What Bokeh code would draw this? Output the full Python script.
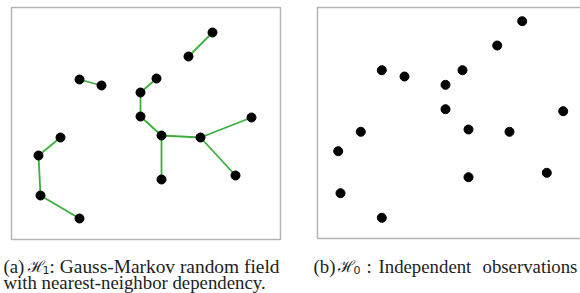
from bokeh.plotting import figure
from bokeh.models import Range1d
from bokeh.core.properties import value
from bokeh.embed import file_html
from bokeh.resources import INLINE

# Panel (a): points of the Gauss-Markov random field (pixel-like coordinates)
a_x = [212, 188, 79, 101, 156, 140, 140, 161, 200, 251, 235, 161, 60, 38, 40, 79]
a_y = [32, 56, 79, 85, 78, 92, 116, 135, 137, 117, 175, 179, 137, 155, 195, 218]
# nearest-neighbour edges (index pairs)
edges = [(0, 1), (2, 3), (4, 5), (5, 6), (6, 7), (7, 8), (8, 9), (8, 10),
         (7, 11), (12, 13), (13, 14), (14, 15)]

# Panel (b): independent observations
b_x = [521.7, 496.7, 381.3, 404, 462, 445, 445, 562.7, 360.3, 468, 509, 337.7, 546.3, 468, 340, 381.3]
b_y = [20.7, 45, 69.7, 76, 69.7, 84.3, 108.7, 110.7, 131.3, 129, 131.3, 150.7, 172.3, 176.7, 192.7, 217.3]

# panel frames: left, right, top, bottom
frame_l = [11, 317]
frame_r = [280, 600]
frame_t = [7, 7]
frame_b = [239, 238]

# caption pieces
word_txt = ["(a)", ":", "(b)", ":", "Independent", "observations",
            "with nearest-neighbor dependency."]
word_x = [3, 49, 313, 366, 378, 482, 3]
word_y = [266, 266, 266, 266, 266, 266, 282]
right_txt = ["Gauss-Markov random field"]
right_x = [279]
right_y = [266]
hyp_txt = ["\u210b", "\u210b"]
hyp_x = [27, 337]
hyp_y = [266, 266]
sub_txt = ["1", "0"]
sub_x = [42, 353]
sub_y = [269, 269]

p = figure(width=580, height=293, output_backend="svg", toolbar_location=None,
           x_range=Range1d(0, 580), y_range=Range1d(293, 0),
           x_axis_type=None, y_axis_type=None, min_border=0,
           margin=(0, 0, 0, 0))
p.grid.visible = False
p.outline_line_color = None
p.background_fill_color = "white"
p.border_fill_color = "white"

p.quad(left=frame_l, right=frame_r, top=frame_t, bottom=frame_b,
       fill_color=None, line_color="#b4b4b4", line_width=1.5)

xs = [[a_x[i], a_x[j]] for i, j in edges]
ys = [[a_y[i], a_y[j]] for i, j in edges]
p.multi_line(xs, ys, line_color="#3cb03c", line_width=1.8)

p.scatter(a_x, a_y, size=9, color="black")
p.scatter(b_x, b_y, size=9, color="black")

serif = value("Liberation Serif")
col = "#222222"
p.text(word_x, word_y, text=word_txt, text_font=serif, text_font_size="18.8px",
       text_color=col, text_baseline="alphabetic")
p.text(right_x, right_y, text=right_txt, text_font=serif, text_font_size="19.4px",
       text_color=col, text_baseline="alphabetic", text_align="right")
p.text(hyp_x, hyp_y, text=hyp_txt, text_font=value("DejaVu Serif"), text_font_size="16px",
       text_color=col, text_baseline="alphabetic")
p.text(sub_x, sub_y, text=sub_txt, text_font=value("DejaVu Sans"), text_font_size="11px",
       text_color=col, text_baseline="alphabetic")

open("out.html", "w").write(file_html(p, INLINE))
